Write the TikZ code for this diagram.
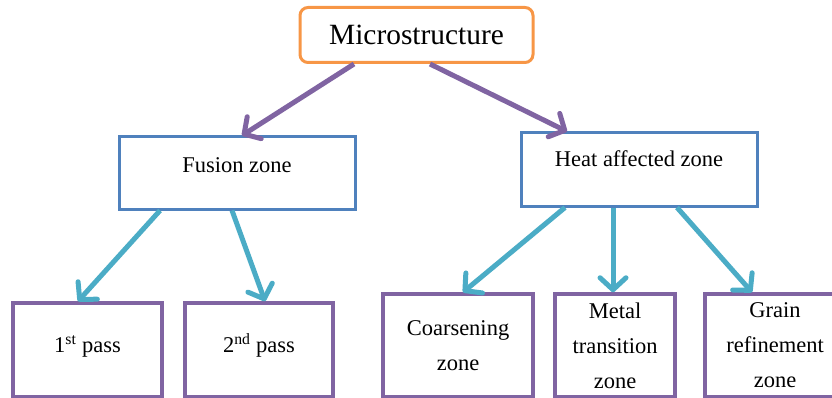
\documentclass[tikz,border=0pt]{standalone}
\usepackage{fontspec}
\setmainfont{Liberation Serif}
\usetikzlibrary{arrows.meta,positioning}
\definecolor{toporange}{HTML}{F79646}
\definecolor{zoneblue}{HTML}{4F81BD}
\definecolor{passpurple}{HTML}{8064A2}
\definecolor{linkcyan}{HTML}{4BACC6}

\begin{document}
\begin{tikzpicture}[x=1pt,y=-1pt,
        topbox/.style={shape=rectangle,draw=toporange,line width=3pt,rounded corners=8pt,inner sep=0pt,minimum width=233pt,minimum height=55pt,font=\fontsize{29.4}{34}\selectfont},
        zonebox/.style={shape=rectangle,draw=zoneblue,line width=3pt,inner sep=0pt,minimum width=236pt,minimum height=72pt,font=\fontsize{22.5}{27}\selectfont},
        passbox/.style={shape=rectangle,draw=passpurple,line width=3.5pt,inner sep=0pt,minimum height=#1,align=center,font=\fontsize{22.5}{35}\selectfont},
        barb/.style={-{Straight Barb[length=12pt,width=26pt,line width=0pt 1,round]}},
        toplink/.style={draw=passpurple,line width=5pt,barb},
        zonelink/.style={draw=linkcyan,line width=5pt,barb}]
        \useasboundingbox (0,0) rectangle (832,398);
        \clip (0,0) rectangle (832,398);

        \node (micro) at (416.5,35) [topbox,text height=21pt,text depth=1pt] {Microstructure};
        \node (fusion) at (237,173) [zonebox,text height=16pt,text depth=16pt] {Fusion zone};
        \node (heat) at (639,169.5) [zonebox,minimum height=73pt,text height=16pt,text depth=21pt] {Heat affected zone};

        \node (pass1) at (87.5,350) [passbox=94pt,minimum width=149pt,text height=16pt,text depth=11pt] {1\textsuperscript{st} pass};
        \node (pass2) at (259,350) [passbox=94pt,minimum width=148pt,text height=16pt,text depth=11pt] {2\textsuperscript{nd} pass};
        \node (coarse) at (458,345.5) [passbox=103pt,minimum width=150pt] {Coarsening\\zone};
        \node (metal) at (615,345.5) [passbox=103pt,minimum width=120pt] {Metal\\transition\\zone};
        \node (grain) at (775,345.5) [passbox=103pt,minimum width=140pt] {Grain\\refinement\\zone};

        \draw[toplink] ([xshift=-62.5pt]micro.south) -- ([xshift=5pt]fusion.north);
        \draw[toplink] ([xshift=13.5pt]micro.south) -- ([xshift=-72pt]heat.north);
        \draw[zonelink] ([xshift=-77pt]fusion.south) -- ([xshift=-9.5pt]pass1.north);
        \draw[zonelink] ([xshift=-5pt]fusion.south) -- ([xshift=6pt]pass2.north);
        \draw[zonelink] ([xshift=-74pt]heat.south) -- ([xshift=5pt]coarse.north);
        \draw[zonelink] ([xshift=-26pt]heat.south) -- ([xshift=-2pt]metal.north);
        \draw[zonelink] ([xshift=38pt]heat.south) -- ([xshift=-23pt]grain.north);
    \end{tikzpicture}
\end{document}
